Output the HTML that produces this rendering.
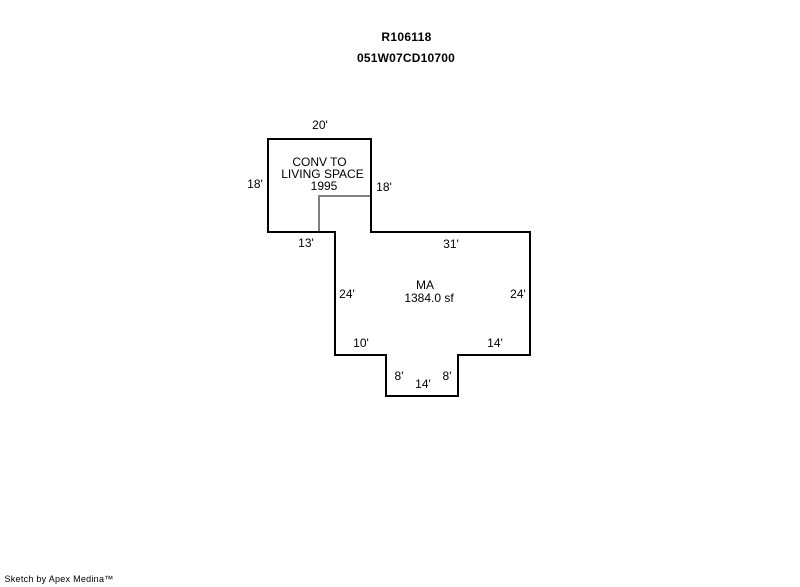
<!DOCTYPE html>
<html>
<head>
<meta charset="utf-8">
<style>
html,body{margin:0;padding:0;background:#fff}
#c{position:relative;width:800px;height:587px;overflow:hidden;background:#fff;font-family:"Liberation Sans",Arial,sans-serif;font-size:12px;line-height:14px;color:#000}
#c svg{position:absolute;left:0;top:0}
#c div{position:absolute;white-space:nowrap;transform:translateX(-50%);text-align:center}
</style>
</head>
<body>
<div id="c">
<svg width="800" height="587" viewBox="0 0 800 587">
<path d="M319 232V196H371" fill="none" stroke="#808080" stroke-width="2"/>
<path d="M268 139H371V232H530V355H458V396H386V355H335V232H268Z" fill="none" stroke="#000" stroke-width="2"/>
</svg>
<div style="left:406.5px;top:30px;font-weight:bold;letter-spacing:.3px">R106118</div>
<div style="left:406px;top:51px;font-weight:bold;letter-spacing:.2px">051W07CD10700</div>
<div style="left:320px;top:118px">20'</div>
<div style="left:255px;top:177px">18'</div>
<div style="left:384px;top:180px">18'</div>
<div style="left:319.5px;top:155px">CONV TO</div>
<div style="left:322.5px;top:167px">LIVING SPACE</div>
<div style="left:324px;top:179px">1995</div>
<div style="left:306px;top:236px">13'</div>
<div style="left:451px;top:237px">31'</div>
<div style="left:347px;top:287px">24'</div>
<div style="left:518px;top:287px">24'</div>
<div style="left:425px;top:278px">MA</div>
<div style="left:429px;top:291px">1384.0 sf</div>
<div style="left:361px;top:336px">10'</div>
<div style="left:495px;top:336px">14'</div>
<div style="left:399px;top:369px">8'</div>
<div style="left:447px;top:369px">8'</div>
<div style="left:423px;top:377px">14'</div>
<div style="left:59px;top:572px;font-size:9px;line-height:14px;letter-spacing:.27px">Sketch by Apex Medina™</div>
</div>
</body>
</html>
